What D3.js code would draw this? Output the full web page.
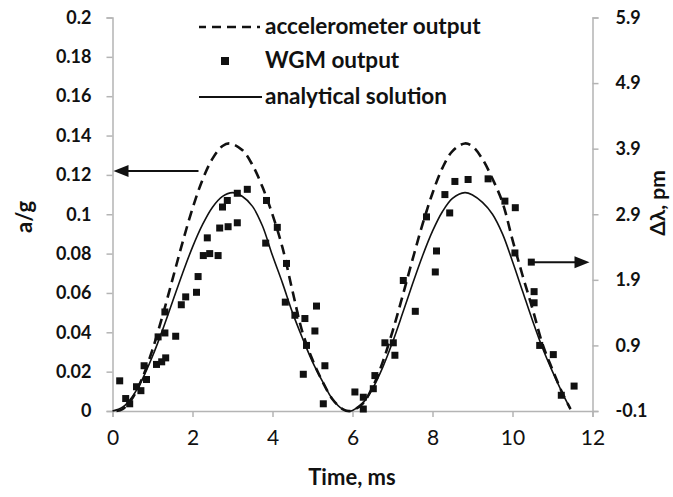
<!DOCTYPE html>
<html>
<head>
<meta charset="utf-8">
<script src="https://cdn.jsdelivr.net/npm/d3@7"></script>
<style>
  body { margin: 0; background: #fff; }
  text { font-family: Lato, "Open Sans", sans-serif; fill: #111; }
</style>
</head>
<body>
<div id="chart"></div>
<script>
const width = 673;
const height = 497;

// analytical solution (a/g vs time, ms)
const solT = [0, 0.25, 0.5, 0.75, 1, 1.25, 1.5, 1.75, 2, 2.25, 2.5, 2.75, 3, 3.25, 3.5, 3.75, 4, 4.25, 4.5, 4.75, 5, 5.25, 5.5, 5.75, 5.9,
  6, 6.25, 6.5, 6.75, 7, 7.25, 7.5, 7.75, 8, 8.25, 8.5, 8.81, 9, 9.25, 9.5, 9.75, 10, 10.25, 10.5, 10.75, 11, 11.25, 11.45];
const solA = [0, 0.0019, 0.0074, 0.0163, 0.0278, 0.0411, 0.0555, 0.0699, 0.0833, 0.0947, 0.1036, 0.1091, 0.111, 0.109, 0.104, 0.094, 0.079, 0.065, 0.050, 0.037, 0.025, 0.015, 0.006, 0.001, 0,
  0.0003, 0.0039, 0.0113, 0.0219, 0.0349, 0.0495, 0.0645, 0.0788, 0.0914, 0.1014, 0.1081, 0.111, 0.1098, 0.106, 0.100, 0.090, 0.076, 0.061, 0.046, 0.032, 0.020, 0.009, 0.001];

// accelerometer output (a/g vs time, ms)
const accT = [0.1, 0.25, 0.5, 0.75, 1, 1.25, 1.5, 1.75, 2, 2.25, 2.5, 2.75, 2.93, 3.25, 3.5, 3.75, 4, 4.25, 4.5, 4.75, 5, 5.25, 5.5, 5.75, 5.95,
  6.25, 6.5, 6.75, 7, 7.25, 7.5, 7.75, 8, 8.25, 8.5, 8.81, 9, 9.25, 9.5, 9.75, 10, 10.25, 10.5, 10.75, 11, 11.25, 11.45];
const accA = [0, 0.0009, 0.0066, 0.017, 0.0312, 0.0483, 0.0669, 0.0856, 0.1029, 0.1175, 0.1283, 0.1347, 0.136, 0.1325, 0.125, 0.1138, 0.0998, 0.083, 0.061, 0.040, 0.026, 0.015, 0.006, 0.001, 0,
  0.0037, 0.012, 0.0246, 0.0404, 0.0583, 0.0769, 0.0948, 0.1107, 0.1236, 0.1321, 0.136, 0.1345, 0.128, 0.118, 0.106, 0.087, 0.069, 0.052, 0.034, 0.021, 0.009, 0.001];

// WGM output (delta lambda, pm vs time, ms)
const wgmT = [0.18, 0.33, 0.43, 0.6, 0.71, 0.85, 0.79, 1.1, 1.23, 1.33, 1.14, 1.31, 1.58, 1.31, 1.72, 1.83, 2.1, 2.14,
  2.27, 2.43, 2.64, 2.37, 2.68, 2.89, 3.12, 2.75, 2.87, 3.12, 3.37, 3.85, 3.83,
  4.12, 4.35, 4.32, 4.56, 4.81, 5.1, 5.06, 4.85, 5.31, 4.77, 5.27,
  6.06, 6.27, 6.27, 6.52, 6.56, 6.81, 7.02, 7.06, 7.27, 7.57,
  7.85, 8.1, 8.07, 8.43, 8.31, 8.56, 8.89, 9.39, 9.81, 10.07, 10.06, 10.47, 10.54, 10.54, 10.68, 11.02, 11.54, 11.22];
const wgmPm = [0.36, 0.09, 0.01, 0.27, 0.21, 0.38, 0.59, 0.61, 0.65, 0.71, 1.03, 1.09, 1.04, 1.41, 1.52, 1.64, 1.71, 1.95,
  2.27, 2.30, 2.27, 2.54, 2.69, 2.71, 2.77, 3.01, 3.11, 3.22, 3.28, 3.11, 2.46,
  2.70, 2.15, 1.56, 1.36, 1.31, 1.50, 1.12, 0.90, 0.59, 0.46, 0.01,
  0.19, 0.11, -0.07, 0.24, 0.44, 0.94, 0.94, 0.75, 1.89, 1.42,
  2.86, 2.34, 2.02, 2.92, 3.20, 3.40, 3.43, 3.44, 3.10, 3.00, 2.31, 2.17, 1.72, 1.55, 0.90, 0.76, 0.28, 0.14];

const xTicks = [0, 2, 4, 6, 8, 10, 12];
const leftTicks = [0, 0.02, 0.04, 0.06, 0.08, 0.1, 0.12, 0.14, 0.16, 0.18, 0.2];
const rightTicks = [-0.1, 0.9, 1.9, 2.9, 3.9, 4.9, 5.9];
const legendLabels = ["accelerometer output", "WGM output", "analytical solution"];

const x = d3.scaleLinear().domain([0, 12]).range([112.5, 592.5]);
const yL = d3.scaleLinear().domain([0, 0.2]).range([411, 17.5]);
const yR = d3.scaleLinear().domain([-0.1, 5.9]).range([411, 17.5]);

const svg = d3.select("#chart").append("svg")
  .attr("width", width).attr("height", height);

// axes
const axisColor = "#b4b4b4";
const gx = svg.append("g").attr("transform", `translate(0,${yL(0)})`)
  .call(d3.axisBottom(x).tickValues(xTicks).tickSize(6).tickPadding(13).tickFormat(d3.format("d")));
const gl = svg.append("g").attr("transform", `translate(${x(0)},0)`)
  .call(d3.axisLeft(yL).tickValues(leftTicks).tickSize(6).tickPadding(15).tickFormat(d => d === 0 ? "0" : String(+d.toFixed(2))));
const gr = svg.append("g").attr("transform", `translate(${x(12)},0)`)
  .call(d3.axisRight(yR).tickValues(rightTicks).tickSize(6).tickPadding(17).tickFormat(d => d.toFixed(1)));

[gx, gl, gr].forEach(g => {
  g.select(".domain").attr("stroke", axisColor).attr("stroke-width", 1.5);
  g.selectAll(".tick line").attr("stroke", axisColor).attr("stroke-width", 1.5);
  g.selectAll(".tick text").attr("fill", "#111");
});
gx.selectAll(".tick text").style("font-size", "21px").style("font-weight", 400);
gl.selectAll(".tick text").style("font-size", "18px").style("font-weight", 700);
gr.selectAll(".tick text").style("font-size", "18px").style("font-weight", 700);

// axis titles
svg.append("text").attr("x", 352).attr("y", 485).attr("text-anchor", "middle")
  .style("font-size", "22px").style("font-weight", 700).text("Time, ms");
svg.append("text").attr("transform", "translate(32,217) rotate(-90)").attr("text-anchor", "middle")
  .style("font-size", "22px").style("font-weight", 700).text("a/g");
svg.append("text").attr("transform", "translate(665,203) rotate(-90)").attr("text-anchor", "middle")
  .style("font-size", "21px").style("font-weight", 700).text("Δλ, pm");

// curves
const solLine = d3.line().x(i => x(solT[i])).y(i => yL(solA[i])).curve(d3.curveCatmullRom);
const accLine = d3.line().x(i => x(accT[i])).y(i => yL(accA[i])).curve(d3.curveCatmullRom);

svg.append("path").attr("d", accLine(d3.range(accT.length)))
  .attr("fill", "none").attr("stroke", "#111").attr("stroke-width", 2.6).attr("stroke-dasharray", "10,6");
svg.append("path").attr("d", solLine(d3.range(solT.length)))
  .attr("fill", "none").attr("stroke", "#111").attr("stroke-width", 1.6);

// WGM squares
const sq = 7;
svg.append("g").selectAll("rect")
  .data(d3.range(wgmT.length))
  .enter()
  .append("rect")
  .attr("x", i => x(wgmT[i]) - sq / 2)
  .attr("y", i => yR(wgmPm[i]) - sq / 2)
  .attr("width", sq).attr("height", sq)
  .attr("fill", "#111");

// arrows pointing at the axes
function arrow(x1, x2, y) {
  const dir = Math.sign(x2 - x1);
  svg.append("line").attr("x1", x1).attr("x2", x2 - dir * 12).attr("y1", y).attr("y2", y)
    .attr("stroke", "#111").attr("stroke-width", 2);
  svg.append("path")
    .attr("d", `M${x2},${y} L${x2 - dir * 15},${y - 6} L${x2 - dir * 15},${y + 6} Z`)
    .attr("fill", "#111");
}
arrow(x(2.15), x(0) + 1, yL(0.122));
arrow(x(10.47), x(12) - 3, yR(2.17));

// legend
const lg = svg.append("g");
const legendY = [27, 61, 97];
lg.append("line").attr("x1", 199).attr("x2", 260).attr("y1", legendY[0]).attr("y2", legendY[0])
  .attr("stroke", "#111").attr("stroke-width", 2.6).attr("stroke-dasharray", "9,6").attr("stroke-dashoffset", 2);
lg.append("rect").attr("x", 221).attr("y", legendY[1] - 4).attr("width", 8).attr("height", 8).attr("fill", "#111");
lg.append("line").attr("x1", 199).attr("x2", 262).attr("y1", legendY[2]).attr("y2", legendY[2])
  .attr("stroke", "#111").attr("stroke-width", 1.8);
lg.selectAll("text.leg")
  .data(legendLabels)
  .enter()
  .append("text")
  .attr("class", "leg")
  .attr("x", 265)
  .attr("y", (d, i) => legendY[i] + 7)
  .style("font-size", "22.5px").style("font-weight", 700)
  .text(d => d);
</script>
</body>
</html>
